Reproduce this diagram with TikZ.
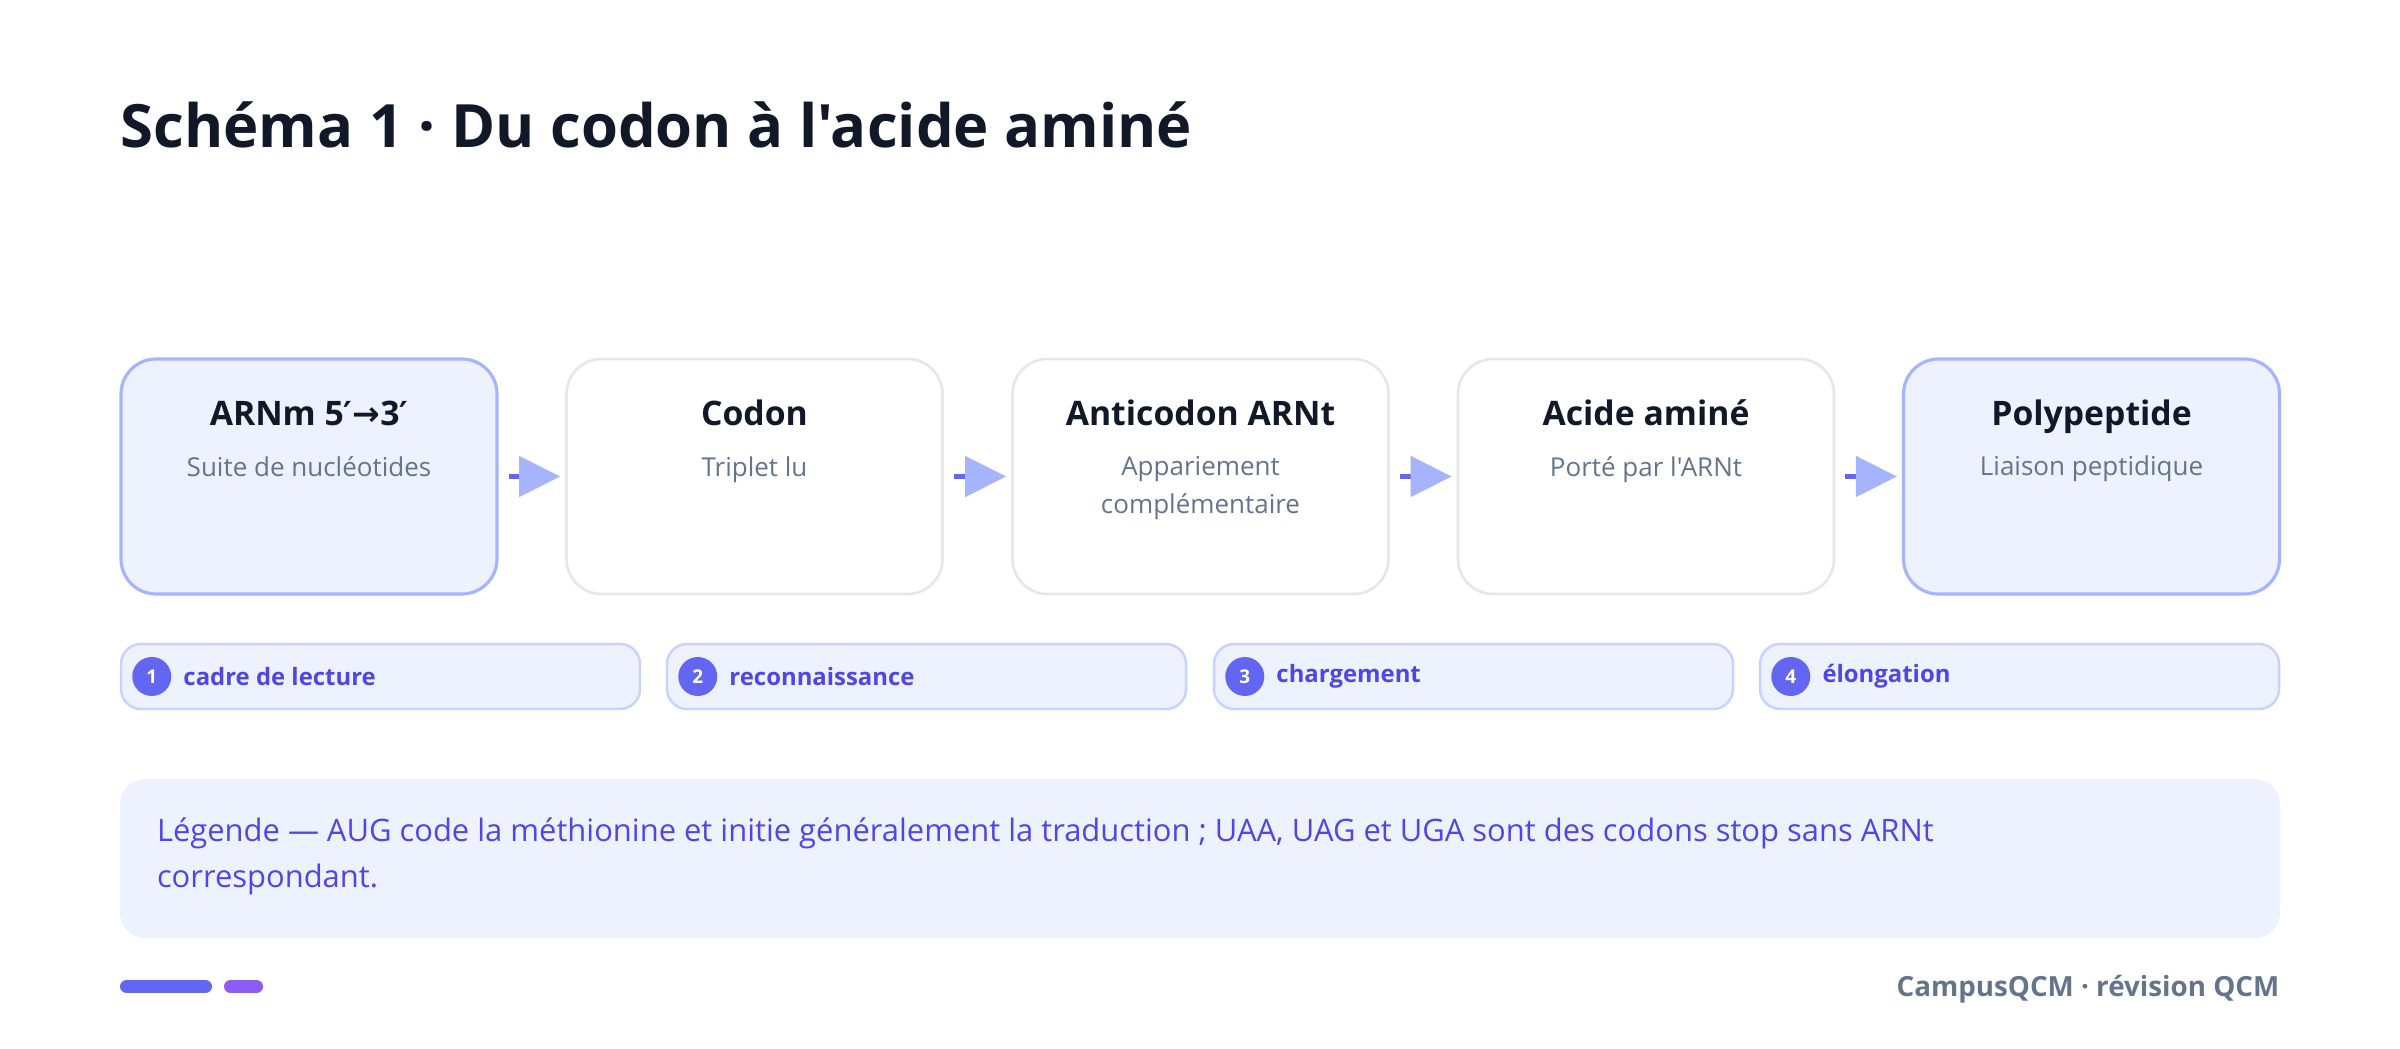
\documentclass[tikz,border=0pt]{standalone}
\usepackage{fontspec}
\setmainfont{Open Sans}[Ligatures=TeXOff]
\newfontfamily\symfnt{DejaVu Sans}
\usetikzlibrary{arrows.meta}
\usetikzlibrary{positioning}

\definecolor{inkdark}{HTML}{111827}
\definecolor{inkgray}{HTML}{64748B}
\definecolor{indigo}{HTML}{6366F1}
\definecolor{indigotext}{HTML}{4F46E5}
\definecolor{violet}{HTML}{8B5CF6}
\definecolor{lavfill}{HTML}{EEF2FF}
\definecolor{lavline}{HTML}{A5B4FC}
\definecolor{pillline}{HTML}{C7D2FE}
\definecolor{greyline}{HTML}{E5E7EB}

\tikzset{
  stagebox/.style={draw=greyline, line width=0.75pt, fill=white, rounded corners=0.35cm,
    minimum width=3.76cm, minimum height=2.35cm, inner sep=0pt},
  stagehi/.style={stagebox, draw=lavline, fill=lavfill, line width=0.9pt},
  stagetitle/.style={font=\fontsize{9.6}{11}\selectfont\bfseries, text=inkdark, inner sep=0pt, anchor=base},
  stagesub/.style={font=\fontsize{7.4}{10.8}\selectfont, text=inkgray, align=center, inner sep=0pt, anchor=north},
  flow/.style={indigo, line width=1.4pt, -{Triangle[length=0.41cm,width=0.4cm,color=lavline]}},
  pill/.style={draw=pillline, line width=0.7pt, fill=lavfill, rounded corners=0.2cm,
    minimum width=5.19cm, minimum height=0.65cm, inner sep=0pt},
  pillnum/.style={circle, fill=indigo, text=white, minimum size=0.39cm, inner sep=0pt,
    font=\fontsize{5.4}{6}\selectfont\bfseries},
  pilltxt/.style={anchor=west, text=indigotext, inner sep=0pt, font=\fontsize{6.8}{8}\selectfont\bfseries},
}

\begin{document}
\begin{tikzpicture}
\useasboundingbox (0,0) rectangle (24,-10.49);
%\draw[help lines, color=gray!30] (0,0) grid (24,-10.49);

% title
\node[anchor=base west, inner sep=0pt, text=inkdark, font=\fontsize{17}{20}\selectfont\bfseries] (title) at (1.2,-1.48) {Schéma 1 · Du codon à l'acide aminé};

% stages
\node[stagehi]  (arnm)  at (3.09,-4.765) {};
\node[stagebox] (codon) at (7.545,-4.765) {};
\node[stagebox] (anti)  at (12.005,-4.765) {};
\node[stagebox] (acide) at (16.46,-4.765) {};
\node[stagehi]  (poly)  at (20.915,-4.765) {};

\node[stagetitle] (t1) at ([yshift=-0.68cm]arnm.north) {ARNm 5{\symfnt\fontsize{9.4}{10}\selectfont ′→}3{\symfnt\fontsize{9.4}{10}\selectfont ′}};
\node[stagesub] (s1) at ([yshift=-0.98cm]arnm.north) {Suite de nucléotides};

\node[stagetitle] (t2) at ([yshift=-0.68cm]codon.north) {Codon};
\node[stagesub] (s2) at ([yshift=-0.98cm]codon.north) {Triplet lu};

\node[stagetitle] (t3) at ([yshift=-0.68cm]anti.north) {Anticodon ARNt};
\node[stagesub] (s3) at ([yshift=-0.98cm]anti.north) {Appariement\\complémentaire};

\node[stagetitle] (t4) at ([yshift=-0.68cm]acide.north) {Acide aminé};
\node[stagesub] (s4) at ([yshift=-0.98cm]acide.north) {Porté par l'ARNt};

\node[stagetitle] (t5) at ([yshift=-0.68cm]poly.north) {Polypeptide};
\node[stagesub] (s5) at ([yshift=-0.98cm]poly.north) {Liaison peptidique};

% arrows
\draw[flow] ([xshift=0.1cm]arnm.east) -- ([xshift=-0.05cm]codon.west);
\draw[flow] ([xshift=0.1cm]codon.east) -- ([xshift=-0.05cm]anti.west);
\draw[flow] ([xshift=0.1cm]anti.east) -- ([xshift=-0.05cm]acide.west);
\draw[flow] ([xshift=0.1cm]acide.east) -- ([xshift=-0.05cm]poly.west);

% steps
\node[pill] (p1) at (3.805,-6.765) {};
\node[pill] (p2) at (9.265,-6.765) {};
\node[pill] (p3) at (14.735,-6.765) {};
\node[pill] (p4) at (20.195,-6.765) {};

\node[pillnum] (n1) at ([xshift=0.32cm]p1.west) {1};
\node[pilltxt] (l1) at ([xshift=0.31cm]n1.center) {cadre de lecture};
\node[pillnum] (n2) at ([xshift=0.32cm]p2.west) {2};
\node[pilltxt] (l2) at ([xshift=0.31cm]n2.center) {reconnaissance};
\node[pillnum] (n3) at ([xshift=0.32cm]p3.west) {3};
\node[pilltxt] (l3) at ([xshift=0.31cm]n3.center) {chargement};
\node[pillnum] (n4) at ([xshift=0.32cm]p4.west) {4};
\node[pilltxt] (l4) at ([xshift=0.31cm]n4.center) {élongation};

% legend
\node[fill=lavfill, rounded corners=0.25cm, minimum width=21.6cm, minimum height=1.59cm, inner sep=0pt] (legend) at (12,-8.585) {};
\node[anchor=west, align=left, inner sep=0pt, text=indigotext, font=\fontsize{8.8}{13}\selectfont] (legtxt) at ([xshift=0.37cm,yshift=0.02cm]legend.west)
  {Légende — AUG code la méthionine et initie généralement la traduction ; UAA, UAG et UGA sont des codons stop sans ARNt\\correspondant.};

% footer
\coordinate (f1a) at (1.265,-9.865);
\coordinate (f1b) at (2.055,-9.865);
\coordinate (f2a) at (2.305,-9.865);
\coordinate (f2b) at (2.565,-9.865);
\draw[indigo, line width=3.7pt, line cap=round] (f1a) -- (f1b);
\draw[violet, line width=3.7pt, line cap=round] (f2a) -- (f2b);
\node[anchor=east, inner sep=0pt, text=inkgray, font=\fontsize{7.9}{9}\selectfont\bfseries] (foot) at (22.8,-9.89) {CampusQCM · révision QCM};

\end{tikzpicture}
\end{document}
